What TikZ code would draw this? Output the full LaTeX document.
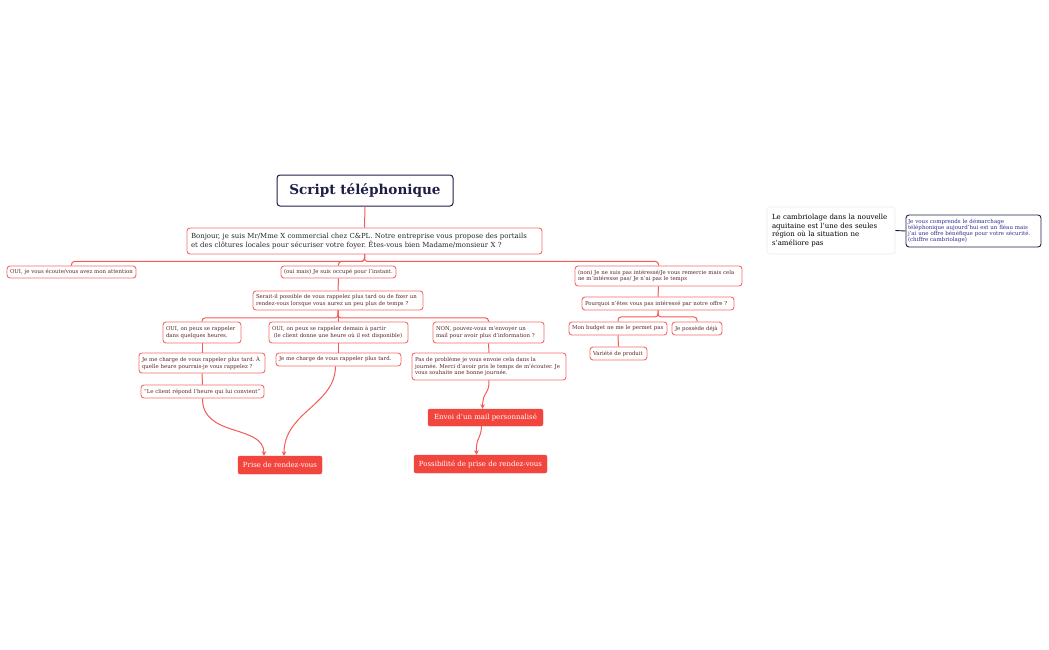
\documentclass[tikz,border=0pt]{standalone}
\usepackage{fontspec}
\setmainfont{DejaVu Serif}
\usetikzlibrary{arrows.meta}
\definecolor{redline}{HTML}{F35B58}
\definecolor{boxred}{HTML}{F36C6A}
\definecolor{boxtext}{HTML}{5B2424}
\definecolor{fillred}{HTML}{F2453D}
\definecolor{navy}{HTML}{1E1E46}
\definecolor{comptext}{HTML}{2B2B8C}
\definecolor{paleborder}{HTML}{ECECEC}
\frenchspacing
\begin{document}
\begin{tikzpicture}[x=1pt,y=-1pt,
  box/.style={draw=boxred, line width=0.9pt, rounded corners=3pt, fill=white, text=boxtext,
    inner xsep=3pt, inner ysep=1pt, align=left, font=\fontsize{5.4}{6.6}\selectfont},
  sz/.style n args={3}{minimum width=#1, minimum height=#2, text width=#3},
  hs/.style 2 args={minimum width=#1, minimum height=#2},
  filled/.style={fill=fillred, draw=fillred, rounded corners=2pt, text=white, inner sep=1pt,
    font=\fontsize{7}{8}\selectfont},
  conn/.style={draw=redline, line width=1pt, rounded corners=3pt},
  arr/.style={draw=redline, line width=1pt, -{Stealth[length=4.5pt,width=4.5pt]}}
]
\useasboundingbox (0,0) rectangle (1049,650);
% title and main
\node[draw=navy, line width=1pt, rounded corners=3pt, text=navy, hs={176}{31},
  font=\fontsize{13.6}{15}\bfseries] (title) at (365,190.5) {Script téléphonique};
\node[box, sz={355}{26}{347pt}, inner xsep=4pt, text=black!85, font=\fontsize{6.95}{8.6}\selectfont] (main) at (364.5,241)
  {Bonjour, je suis Mr/Mme X commercial chez C\&PL. Notre entreprise vous propose des portails\\
   et des clôtures locales pour sécuriser votre foyer. Êtes-vous bien Madame/monsieur X ?};
% level 1
\node[box, sz={129}{12}{123pt}] (c1) at (71.5,272) {OUI, je vous écoute/vous avez mon attention};
\node[box, sz={115}{12}{109pt}] (c2) at (338.5,272) {(oui mais) Je suis occupé pour l'instant.};
\node[box, sz={167}{20}{161pt}] (c3) at (658.5,276) {(non) Je ne suis pas intéressé/Je vous remercie mais cela\\ ne m'intéresse pas/ Je n'ai pas le temps};
% middle branch
\node[box, sz={170}{19}{164pt}] (q) at (338,300.5) {Serait-il possible de vous rappelez plus tard ou de fixer un\\ rendez-vous lorsque vous aurez un peu plus de temps ?};
\node[box, sz={78}{21}{72pt}] (a1) at (202,332.5) {OUI, on peux se rappeler\\ dans quelques heures.};
\node[box, sz={139}{21}{133pt}] (a2) at (338.5,332.5) {OUI, on peux se rappeler demain à partir\\ \ (le client donne une heure où il est disponible)};
\node[box, sz={111}{21}{105pt}] (a3) at (488.5,332.5) {NON, pouvez-vous m'envoyer un\\ mail pour avoir plus d'information ?};
\node[box, sz={126}{20}{120pt}] (b1) at (202,363) {Je me charge de vous rappeler plus tard. À\\ quelle heure pourrais-je vous rappelez ?};
\node[box, sz={123}{13}{117pt}] (b1b) at (202.5,391.5) {"Le client répond l'heure qui lui convient"};
\node[box, sz={125}{13}{119pt}] (b2) at (338.5,359.5) {Je me charge de vous rappeler plus tard.};
\node[box, sz={154}{27}{148pt}] (b3) at (489,366.5) {Pas de problème je vous envoie cela dans la\\ journée. Merci d'avoir pris le temps de m'écouter. Je\\ vous souhaite une bonne journée.};
\node[filled, hs={84}{18}] (prise) at (280,465) {Prise de rendez-vous};
\node[filled, hs={115}{17}] (envoi) at (485.5,417.5) {Envoi d'un mail personnalisé};
\node[filled, hs={133}{18}] (poss) at (480.5,464) {Possibilité de prise de rendez-vous};
% right branch
\node[box, sz={152}{13}{146pt}] (pq) at (658,303.5) {Pourquoi n'êtes vous pas intéressé par notre offre ?};
\node[box, sz={98}{13}{92pt}] (budget) at (618,328.5) {Mon budget ne me le permet pas};
\node[box, sz={50}{13}{44pt}] (deja) at (697,328.5) {Je possède déjà};
\node[box, sz={57}{13}{51pt}] (variete) at (618.5,353.5) {Variété de produit};
% floating
\node[draw=paleborder, line width=0.6pt, rounded corners=3pt, fill=white, text=black, sz={128}{47}{118pt},
  inner xsep=5pt, align=left, font=\fontsize{7}{8.4}\selectfont] (cambr) at (831,230.5)
  {Le cambriolage dans la nouvelle\\ aquitaine est l'une des seules\\ région où la situation ne\\ s'améliore pas};
\node[draw=navy, line width=0.9pt, rounded corners=3pt, fill=white, text=comptext, sz={135}{32}{131pt},
  inner xsep=2pt, align=left, font=\fontsize{5.5}{6.2}\selectfont] (comp) at (973.5,231)
  {Je vous comprends le démarchage\\ téléphonique aujourd'hui est un fléau mais\\ j'ai une offre bénéfique pour votre sécurité.\\ (chiffre cambriolage)};
% connectors
\draw[conn] (title.south) -- (main.north);
\draw[conn] (main.south) -- ++(0,7) -| (c1.north);
\draw[conn] (main.south) -- ++(0,7) -| (c2.north);
\draw[conn] (main.south) -- ++(0,7) -| (c3.north);
\draw[conn] (c2.south) -- (q.north);
\draw[conn] (q.south) -- ++(0,7.5) -| (a1.north);
\draw[conn] (q.south) -- (a2.north);
\draw[conn] (q.south) -- ++(0,7.5) -| (a3.north);
\draw[conn] (a1.south) -- (b1.north);
\draw[conn] (b1.south) -- (b1b.north);
\draw[conn] (a2.south) -- (b2.north);
\draw[conn] (a3.south) -- (b3.north);
\draw[conn] (c3.south) -- (pq.north);
\draw[conn] (pq.south) -- ++(0,6.5) -| (budget.north);
\draw[conn] (pq.south) -- ++(0,6.5) -| (deja.north);
\draw[conn] (budget.south) -- (variete.north);
\draw[draw=navy, line width=0.9pt] (cambr.east) -- (comp.west);
% curved arrows
\draw[arr] (b1b.south) .. controls (202,438) and (264,424) .. ([xshift=-16]prise.north);
\draw[arr] ([xshift=-3]b2.south) .. controls (335,405) and (284,412) .. ([xshift=4]prise.north);
\draw[arr] (b3.south) .. controls (489,396) and (483,390) .. ([xshift=-3]envoi.north);
\draw[arr] ([xshift=-4]envoi.south) .. controls (481,440) and (476,436) .. ([xshift=-4]poss.north);
\end{tikzpicture}
\end{document}
